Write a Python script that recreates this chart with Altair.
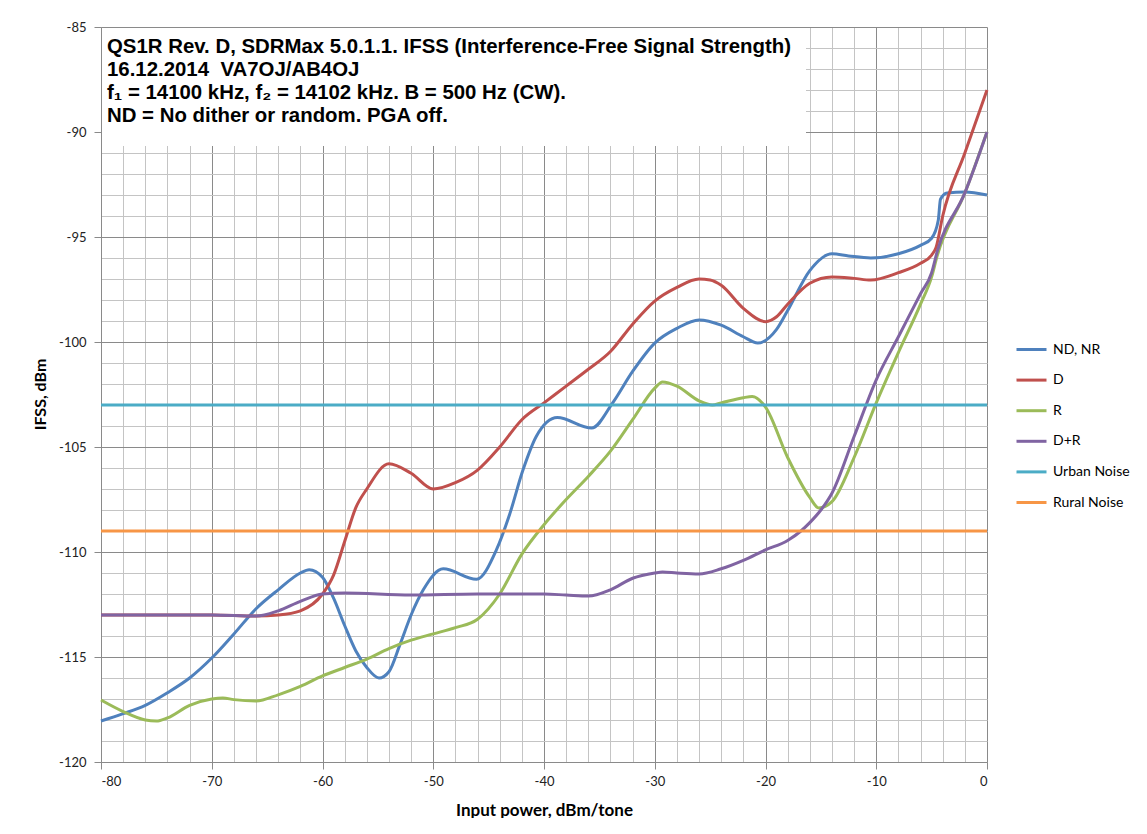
import altair as alt
import pandas as pd

SERIES = ["ND, NR", "D", "R", "D+R", "Urban Noise", "Rural Noise"]
COLORS = ["#4F81BD", "#C0504D", "#9BBB59", "#8064A2", "#4BACC6", "#F79646"]

nd_x = [-80, -78, -76, -74, -72, -70, -68, -66, -64, -62, -61.2, -60, -59, -58, -57, -56, -54.9, -54, -53, -52,
        -50.9, -49.1, -46.1, -44.3, -43.1, -41.9, -40.7, -38.8, -35.7, -33.8, -32, -30, -28, -26, -24, -22,
        -20.7, -19, -18, -16, -14, -12.5, -10.5, -8, -6, -5, -4.4, -4.2, -3.6, -2, 0]
nd_y = [-118.05, -117.7, -117.3, -116.7, -116.0, -115.05, -113.9, -112.7, -111.8, -111.0, -110.84, -111.2,
        -112.2, -113.5, -114.7, -115.5, -116.0, -115.7, -114.4, -113.0, -111.8, -110.8, -111.3, -109.9,
        -108.2, -106.1, -104.5, -103.6, -104.1, -102.9, -101.4, -100.05, -99.35, -98.95, -99.2, -99.75,
        -100.05, -99.4, -98.5, -96.6, -95.8, -95.9, -96.0, -95.8, -95.4, -95.06, -94.2, -93.2, -92.9,
        -92.86, -93.0]

d_x = [-80, -70, -66, -64, -62, -60, -59, -58, -57, -56, -54, -52, -50, -48, -46, -44, -42, -40, -38, -36,
       -34, -32, -30, -28, -26, -25, -24, -22, -20, -19, -18, -16, -14, -12, -10.5, -8, -6, -5, -4.6, -4,
       -2, 0]
d_y = [-113.0, -113.0, -113.05, -113.0, -112.8, -112.0, -111.1, -109.5, -107.9, -107.0, -105.8, -106.25,
       -107.0, -106.7, -106.1, -105.0, -103.7, -102.9, -102.1, -101.3, -100.45, -99.15, -98.05, -97.4,
       -97.0, -97.05, -97.3, -98.4, -99.03, -98.8, -98.2, -97.2, -96.9, -96.97, -97.05, -96.7, -96.25,
       -95.86, -95.5, -94.0, -91.0, -88.0]

r_x = [-80, -78, -76, -75, -74, -72, -70, -69, -68, -66, -64, -62, -60, -58, -56, -54, -52, -50, -48, -46,
       -44, -42, -40, -38, -36, -34, -32, -30, -29.3, -28, -26, -24.8, -24, -22, -21.2, -20, -18, -16,
       -15.2, -14, -12, -10, -8, -6, -5, -4.5, -2, 0]
r_y = [-117.05, -117.6, -118.0, -118.05, -117.9, -117.3, -117.0, -116.95, -117.03, -117.1, -116.8, -116.4,
       -115.9, -115.5, -115.1, -114.6, -114.2, -113.9, -113.6, -113.2, -112.0, -110.1, -108.7, -107.5,
       -106.4, -105.2, -103.7, -102.2, -101.9, -102.1, -102.8, -103.0, -102.9, -102.65, -102.6, -103.1,
       -105.5, -107.4, -107.9, -107.6, -105.5, -102.9, -100.5, -98.2, -96.9, -95.9, -92.9, -90.0]

dr_x = [-80, -70, -66, -64, -62, -60, -58, -52, -46, -40, -38, -36, -34, -32, -30, -29.3, -28, -26, -24,
        -22, -20, -18, -16.8, -16, -15, -14, -12, -10, -8, -6, -5, -4.5, -2, 0]
dr_y = [-113.0, -113.0, -113.05, -112.8, -112.35, -112.0, -111.95, -112.05, -112.0, -112.0, -112.05,
        -112.1, -111.8, -111.25, -111.0, -110.95, -111.0, -111.05, -110.8, -110.4, -109.9, -109.45, -109.0,
        -108.6, -108.0, -107.2, -104.5, -101.8, -99.75, -97.7, -96.7, -95.7, -92.9, -90.0]

urban_x = [-80, 0]
urban_y = [-103, -103]
rural_x = [-80, 0]
rural_y = [-109, -109]

NOTE_LINES = [
    "QS1R Rev. D, SDRMax 5.0.1.1. IFSS (Interference-Free Signal Strength)",
    "16.12.2014\u00a0 VA7OJ/AB4OJ",
    "f\u2081 = 14100 kHz, f\u2082 = 14102 kHz. B = 500 Hz (CW).",
    "ND = No dither or random. PGA off.",
]

rows = []
for k, (name, xs, ys) in enumerate(zip(SERIES, [nd_x, d_x, r_x, dr_x, urban_x, rural_x],
                                       [nd_y, d_y, r_y, dr_y, urban_y, rural_y])):
    for i, (a, b) in enumerate(zip(xs, ys)):
        rows.append({"series": name, "x": a, "y": b, "i": i, "k": k})
df = pd.DataFrame(rows)

x_axis = alt.Axis(
    values=list(range(-80, 1, 2)),
    labelExpr="datum.value % 10 === 0 ? toString(datum.value) : ''",
    grid=True,
    gridColor=alt.condition("datum.value % 10 === 0", alt.value("#8a8a8a"), alt.value("#c4c4c4")),
    gridWidth=1,
    tickColor=alt.condition("datum.value % 10 === 0", alt.value("#8a8a8a"), alt.value("transparent")),
    tickSize=7,
    domainColor="#8a8a8a",
    labelFont="Lato", labelFontSize=13, labelColor="#222222", labelPadding=6,
    title="Input power, dBm/tone", titleFont="Lato", titleFontSize=17, titleFontWeight="bold",
    titleColor="black", titleY=48, titleBaseline="middle",
)
y_axis = alt.Axis(
    values=list(range(-120, -84, 1)),
    labelExpr="datum.value % 5 === 0 ? toString(datum.value) : ''",
    grid=True,
    gridColor=alt.condition("datum.value % 5 === 0", alt.value("#8a8a8a"), alt.value("#c4c4c4")),
    gridWidth=1,
    tickColor=alt.condition("datum.value % 5 === 0", alt.value("#8a8a8a"), alt.value("transparent")),
    tickSize=7,
    domainColor="#8a8a8a",
    labelFont="Lato", labelFontSize=13, labelColor="#222222", labelPadding=8,
    title="IFSS, dBm", titleFont="Lato", titleFontSize=16, titleFontWeight="bold",
    titleColor="black", titleX=-61, titleY=367, titleBaseline="middle", titleAlign="center",
)

lines = alt.Chart(df).mark_line(interpolate="monotone", strokeWidth=3).encode(
    x=alt.X("x:Q", scale=alt.Scale(domain=[-80, 0], nice=False, zero=False), axis=x_axis),
    y=alt.Y("y:Q", scale=alt.Scale(domain=[-120, -85], nice=False, zero=False), axis=y_axis),
    color=alt.Color("series:N", sort=SERIES,
                    scale=alt.Scale(domain=SERIES, range=COLORS),
                    legend=alt.Legend(title=None, orient="none", legendX=914, legendY=306,
                                      symbolType="stroke", symbolSize=900, symbolStrokeWidth=3,
                                      labelFont="Lato", labelFontSize=14, labelColor="black",
                                      rowPadding=6.6, labelOffset=5)),
    order="i:Q",
)

one = pd.DataFrame({"a": [0]})
box = alt.Chart(one).mark_rect(fill="white").encode(
    x=alt.value(1), x2=alt.value(705), y=alt.value(1), y2=alt.value(119)
)
note = alt.Chart(one).mark_text(
    align="left", baseline="alphabetic", font="Liberation Sans", fontWeight="bold",
    fontSize=20.4, lineHeight=23, color="black"
).encode(x=alt.value(6), y=alt.value(26), text=alt.value(NOTE_LINES))

chart = alt.layer(lines, box, note).properties(
    width=886, height=735,
    autosize=alt.AutoSizeParams(type="none"),
    padding={"left": 93, "top": 19, "right": 152, "bottom": 56},
    background="white",
).configure_view(strokeWidth=0)

chart.save("out.html", embed_options={"renderer": "svg", "actions": False})
